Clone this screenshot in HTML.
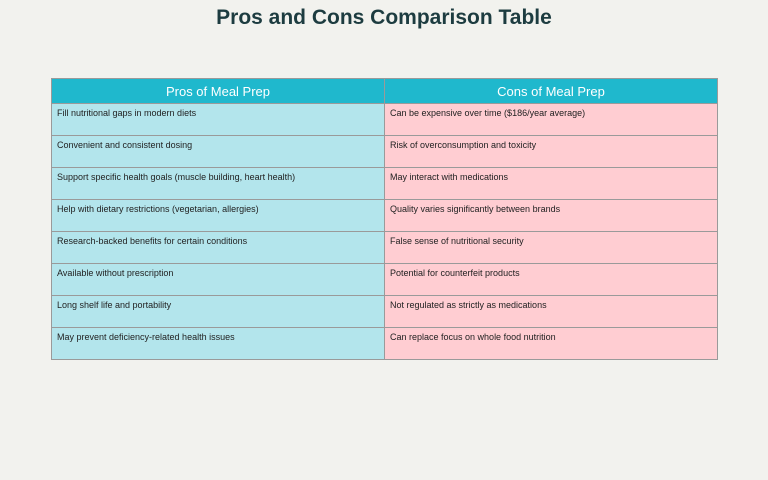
<!DOCTYPE html>
<html><head><meta charset="utf-8"><style>
html,body{margin:0;padding:0;width:768px;height:480px;background:#f2f2ee;overflow:hidden;font-family:"Liberation Sans",sans-serif;}
h1{position:absolute;left:0;top:6px;width:768px;margin:0;text-align:center;font-size:21px;font-weight:bold;color:#1d3c40;}
table{position:absolute;left:51px;top:78px;width:667px;border-collapse:collapse;}
th{height:25px;background:#1fb8cd;color:#fff;font-size:13px;font-weight:normal;border:1px solid #9a9a9a;padding:0;box-sizing:border-box;}
td{height:32px;font-size:9px;color:#222;border:1px solid #9a9a9a;vertical-align:top;padding:4px 5px 0 5px;box-sizing:border-box;width:50%;}
td.p{background:#b3e5ec;} td.c{background:#ffcdd2;}
</style></head><body>
<h1>Pros and Cons Comparison Table</h1>
<table>
<tr><th>Pros of Meal Prep</th><th>Cons of Meal Prep</th></tr>
<tr><td class="p">Fill nutritional gaps in modern diets</td><td class="c">Can be expensive over time ($186/year average)</td></tr>
<tr><td class="p">Convenient and consistent dosing</td><td class="c">Risk of overconsumption and toxicity</td></tr>
<tr><td class="p">Support specific health goals (muscle building, heart health)</td><td class="c">May interact with medications</td></tr>
<tr><td class="p">Help with dietary restrictions (vegetarian, allergies)</td><td class="c">Quality varies significantly between brands</td></tr>
<tr><td class="p">Research-backed benefits for certain conditions</td><td class="c">False sense of nutritional security</td></tr>
<tr><td class="p">Available without prescription</td><td class="c">Potential for counterfeit products</td></tr>
<tr><td class="p">Long shelf life and portability</td><td class="c">Not regulated as strictly as medications</td></tr>
<tr><td class="p">May prevent deficiency-related health issues</td><td class="c">Can replace focus on whole food nutrition</td></tr>
</table>
</body></html>
